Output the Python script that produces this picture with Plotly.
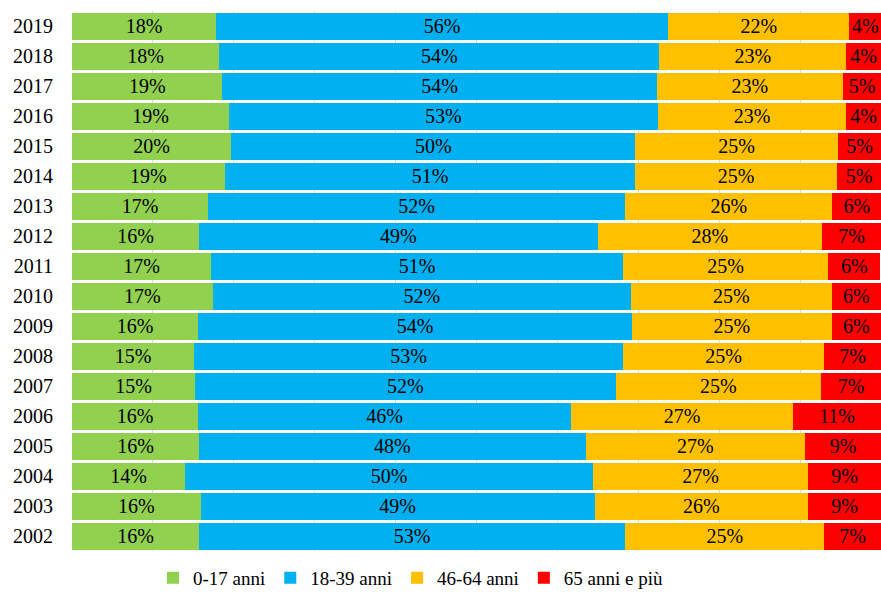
import plotly.graph_objects as go

years = ["2002", "2003", "2004", "2005", "2006", "2007", "2008", "2009", "2010",
         "2011", "2012", "2013", "2014", "2015", "2016", "2017", "2018", "2019"]

age_0_17 = [15.7, 15.9, 14.0, 15.7, 15.6, 15.2, 15.1, 15.6, 17.4,
            17.2, 15.7, 16.8, 18.9, 19.7, 19.4, 18.6, 18.2, 17.8]
age_18_39 = [52.7, 48.7, 50.4, 47.8, 46.1, 52.0, 53.0, 53.6, 51.7,
             50.9, 49.3, 51.6, 50.7, 49.9, 53.0, 53.7, 54.4, 55.9]
age_46_64 = [24.6, 26.4, 26.6, 27.1, 27.4, 25.4, 24.9, 24.7, 24.8,
             25.4, 27.7, 25.6, 25.0, 25.1, 23.3, 23.0, 23.1, 22.4]
age_65 = [7.0, 9.0, 9.0, 9.4, 10.9, 7.4, 7.0, 6.1, 6.1,
          6.4, 7.3, 6.0, 5.4, 5.3, 4.3, 4.7, 4.3, 3.9]

series = [
    ("0-17 anni", age_0_17, "#92D050"),
    ("18-39 anni", age_18_39, "#00B0F0"),
    ("46-64 anni", age_46_64, "#FFC000"),
    ("65 anni e più", age_65, "#FF0000"),
]

FONT = "Times New Roman"

fig = go.Figure()
for name, vals, color in series:
    fig.add_trace(go.Bar(
        y=years, x=vals, name=name, orientation="h",
        marker=dict(color=color, line=dict(width=0)),
        text=[f"{round(v):d}%" for v in vals],
        textposition="inside", insidetextanchor="middle", textangle=0,
        constraintext="none",
        textfont=dict(family=FONT, size=20, color="#000000"),
        insidetextfont=dict(family=FONT, size=20, color="#000000"),
        hoverinfo="skip",
    ))

fig.update_layout(
    barmode="stack",
    bargap=0.1,
    width=881, height=592,
    margin=dict(l=72, r=0, t=11, b=41),
    paper_bgcolor="white", plot_bgcolor="white",
    font=dict(family=FONT, size=20, color="#000000"),
    showlegend=True,
    legend=dict(orientation="h", x=0.419, xanchor="center",
                yref="container", y=0.024, yanchor="middle",
                font=dict(family=FONT, size=19, color="#000000"),
                itemwidth=30, traceorder="normal"),
    uniformtext=dict(mode=False),
)
fig.update_xaxes(range=[0, 100], dtick=10, showgrid=True, gridcolor="#D9D9D9",
                 gridwidth=1, showticklabels=False, zeroline=False, showline=False)
fig.update_yaxes(type="category", showgrid=False, ticks="", ticklabelstandoff=18,
                 tickfont=dict(family=FONT, size=20, color="#000000"), showline=False)

fig.write_html("out.html")
